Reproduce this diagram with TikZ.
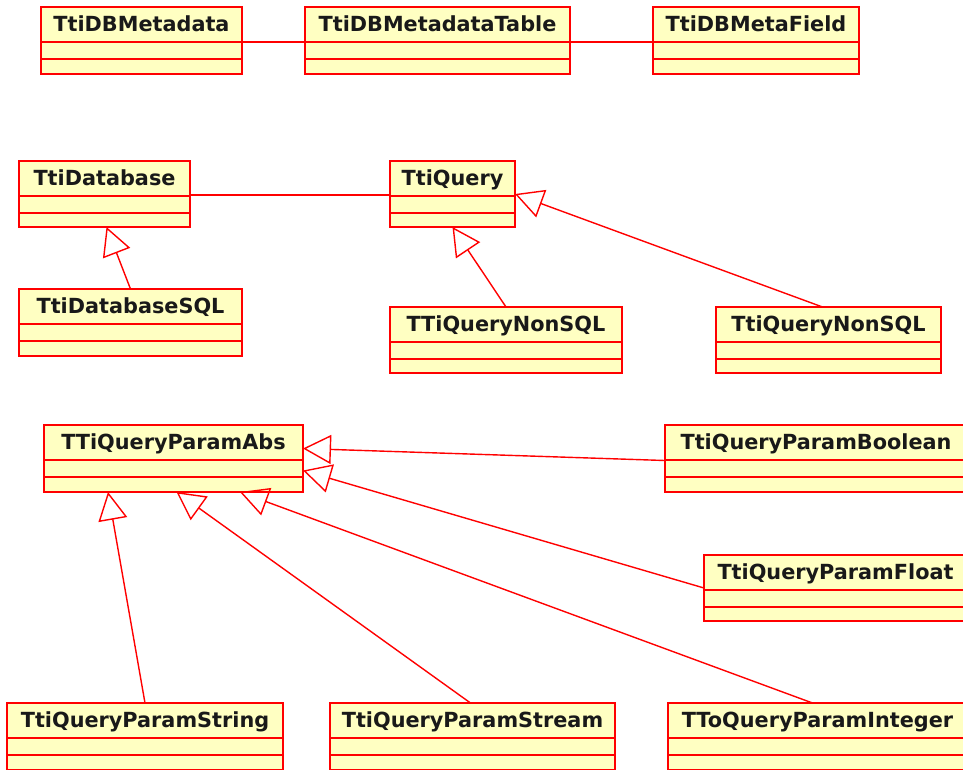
\documentclass[tikz,border=0pt]{standalone}
\usepackage{fontspec}
\setmainfont{DejaVu Sans}
\usetikzlibrary{arrows.meta}
\definecolor{umlred}{RGB}{255,0,0}
\definecolor{umlfill}{RGB}{255,255,194}
\tikzset{
  clsbox/.style={draw=umlred, fill=umlfill, line width=2pt, rectangle, inner sep=0pt, outer sep=0pt},
  clstitle/.style={inner sep=0pt, anchor=base, font=\fontsize{20.8}{24}\selectfont\bfseries, text=black!90},
  clsline/.style={draw=umlred, line width=2pt},
  assoc/.style={draw=umlred, line width=1.4pt},
  inherit/.style={draw=umlred, line width=1.4pt, -{Triangle[open, length=28pt, width=29pt]}}
}
\newcommand\umlcls[6]{%
  \node[clsbox, minimum width=#4pt, minimum height=#5pt, anchor=north west] (#1) at (#2,#3) {};
  \node[clstitle] (#1-t) at ([yshift=-24pt]#1.north) {#6};
  \draw[clsline] ([yshift=-35pt]#1.north west) -- ([yshift=-35pt]#1.north east);
  \draw[clsline] ([yshift=-52pt]#1.north west) -- ([yshift=-52pt]#1.north east);
}
\begin{document}
\begin{tikzpicture}[x=1pt, y=-1pt]
\useasboundingbox (0,0) rectangle (963,769);
\fill[white] (0,0) rectangle (963,769);
\clip (0,0) rectangle (963,769);

% row 1
\umlcls{dbmeta}{41}{7}{201}{67}{TtiDBMetadata}
\umlcls{dbmetatable}{305}{7}{265}{67}{TtiDBMetadataTable}
\umlcls{dbmetafield}{653}{7}{206}{67}{TtiDBMetaField}
\draw[assoc] ([yshift=-35pt]dbmeta.north east) -- ([yshift=-35pt]dbmetatable.north west);
\draw[assoc] ([yshift=-35pt]dbmetatable.north east) -- ([yshift=-35pt]dbmetafield.north west);

% row 2
\umlcls{db}{19}{161}{171}{66}{TtiDatabase}
\umlcls{dbsql}{19}{289}{223}{67}{TtiDatabaseSQL}
\umlcls{query}{390}{161}{125}{66}{TtiQuery}
\umlcls{qnonsqla}{390}{307}{232}{66}{TTiQueryNonSQL}
\umlcls{qnonsqlb}{716}{307}{225}{66}{TtiQueryNonSQL}
\draw[assoc] ([yshift=-34pt]db.north east) -- ([yshift=-34pt]query.north west);
\draw[inherit] (dbsql.north) -- ([xshift=2pt]db.south);
\draw[inherit] (qnonsqla.north) -- (query.south);
\draw[inherit] ([xshift=-6pt]qnonsqlb.north) -- (query.east);

% row 3
\umlcls{abs}{44}{425}{259}{67}{TTiQueryParamAbs}
\umlcls{pbool}{665}{425}{302}{67}{TtiQueryParamBoolean}
\umlcls{pfloat}{704}{555}{263}{66}{TtiQueryParamFloat}
\umlcls{pstring}{7}{703}{276}{67}{TtiQueryParamString}
\umlcls{pstream}{330}{703}{285}{67}{TtiQueryParamStream}
\umlcls{pint}{668}{703}{299}{67}{TToQueryParamInteger}

\draw[inherit] ([yshift=-2pt]pbool.west) -- ([yshift=10pt]abs.east);
\draw[inherit] (pfloat.west) -- ([yshift=-12pt]abs.east);
\draw[inherit] ([xshift=-5pt]pint.north) -- ([xshift=-63pt]abs.south east);
\draw[inherit] ([xshift=-2pt]pstream.north) -- ([xshift=3pt]abs.south);
\draw[inherit] (pstring.north) -- ([xshift=64pt]abs.south west);
\end{tikzpicture}
\end{document}
